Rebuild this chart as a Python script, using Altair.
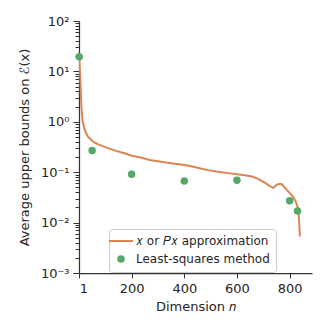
import altair as alt
import pandas as pd

# orange curve: "x or Px approximation"
curve_n = [1, 3, 5, 7, 9, 12, 14, 20, 27, 35, 46, 58, 71, 90, 109, 141, 173, 204, 235, 268, 300, 331, 365, 401, 430, 458, 490, 522, 560, 600, 630, 661, 680, 699, 710, 718, 728, 737, 744, 750, 760, 769, 778, 788, 800, 814, 822, 830, 833, 835, 837, 839]
curve_v = [20, 11, 7.3, 3.5, 2.1, 1.3, 1.0, 0.75, 0.59, 0.5, 0.44, 0.39, 0.36, 0.33, 0.30, 0.265, 0.237, 0.21, 0.195, 0.175, 0.165, 0.155, 0.147, 0.139, 0.13, 0.12, 0.11, 0.103, 0.097, 0.091, 0.087, 0.081, 0.074, 0.065, 0.06, 0.056, 0.052, 0.049, 0.052, 0.056, 0.058, 0.058, 0.052, 0.045, 0.039, 0.032, 0.027, 0.021, 0.017, 0.013, 0.009, 0.0053]

# green points: least-squares method
ls_n = [1, 50, 200, 400, 600, 800, 830]
ls_v = [19.5, 0.27, 0.091, 0.067, 0.069, 0.027, 0.017]

series = ["𝑥 or 𝑃𝑥 approximation", "Least-squares method"]
colors = ["#dd8452", "#55a868"]

x_ticks = [1, 200, 400, 600, 800]
y_ticks = [m * 10.0 ** e for e in range(-3, 2) for m in range(1, 10)] + [100.0]

df_line = pd.DataFrame({"n": curve_n, "v": curve_v, "s": series[0]})
df_pts = pd.DataFrame({"n": ls_n, "v": ls_v, "s": series[1]})

xs = alt.Scale(domain=[0, 885], nice=False, zero=False)
ys = alt.Scale(type="log", domain=[0.001, 100], nice=False)

is_major = "abs(log(datum.value)/LN10 - round(log(datum.value)/LN10)) < 1e-6"
lab = ("!(" + is_major + ") ? '' : "
       "round(log(datum.value)/LN10) == 2 ? '10²' : "
       "round(log(datum.value)/LN10) == 1 ? '10¹' : "
       "round(log(datum.value)/LN10) == 0 ? '10⁰' : "
       "round(log(datum.value)/LN10) == -1 ? '10⁻¹' : "
       "round(log(datum.value)/LN10) == -2 ? '10⁻²' : '10⁻³'")

xaxis = alt.Axis(values=x_ticks, title="Dimension 𝑛", grid=False, tickSize=5,
                 labelPadding=4, titlePadding=5)
yaxis = alt.Axis(values=y_ticks, labelExpr=lab, title="Average upper bounds on ℰ(x)",
                 grid=False, labelPadding=4, titlePadding=9,
                 tickSize={"condition": {"test": is_major, "value": 6}, "value": 4})

leg = alt.Legend(title=None, orient="none", legendX=30, legendY=208,
                 fillColor="white", strokeColor="#cccccc",
                 cornerRadius=3, padding=6, labelFontSize=12,
                 symbolSize=30, labelOffset=9, rowPadding=5,
                 symbolStrokeWidth=2, labelColor="#262626")

stroke_scale = alt.Scale(domain=series, range=colors)
fill_scale = alt.Scale(domain=series, range=colors)
shape_scale = alt.Scale(domain=series, range=["M-4.4,0L4.4,0", "circle"])

line = alt.Chart(df_line).mark_line(strokeWidth=2, clip=True).encode(
    x=alt.X("n:Q", scale=xs, axis=xaxis),
    y=alt.Y("v:Q", scale=ys, axis=yaxis),
    stroke=alt.Stroke("s:N", scale=stroke_scale, legend=leg),
)

pts = alt.Chart(df_pts).mark_point(filled=True, size=30, opacity=1).encode(
    x=alt.X("n:Q", scale=xs),
    y=alt.Y("v:Q", scale=ys),
    fill=alt.Fill("s:N", scale=fill_scale, legend=leg),
    stroke=alt.Stroke("s:N", scale=stroke_scale, legend=leg),
    shape=alt.Shape("s:N", scale=shape_scale, legend=leg),
)

chart = alt.layer(line, pts).properties(
    width=233, height=252,
    autosize=alt.AutoSizeParams(type="none"),
    padding={"left": 71, "top": 13, "right": 5, "bottom": 45},
).configure_view(stroke=None).configure_axis(
    domainColor="#333333", tickColor="#333333", labelColor="#262626", titleColor="#262626",
    labelFont="DejaVu Sans", titleFont="DejaVu Sans", labelFontSize=13, titleFontSize=13,
    titleFontWeight="normal", domainWidth=1.25, tickWidth=1,
).configure_legend(labelFont="DejaVu Sans")

chart.save("out.html", embed_options={"renderer": "svg", "actions": False})
